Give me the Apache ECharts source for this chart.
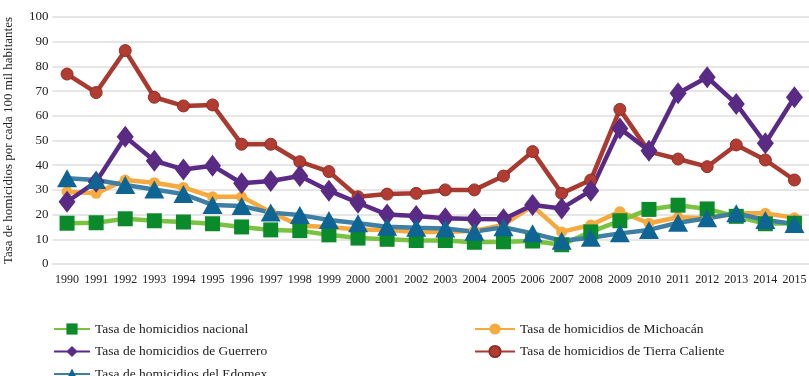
<!DOCTYPE html>
<html>
<head>
<meta charset="utf-8">
<script src="https://cdn.jsdelivr.net/npm/echarts@6/dist/echarts.min.js"></script>
<style>
  html, body { margin: 0; padding: 0; background: #fff; }
  #main { width: 809px; height: 376px; }
</style>
</head>
<body>
<div id="main"></div>
<script>
// 年份
var years = ['1990','1991','1992','1993','1994','1995','1996','1997','1998','1999','2000','2001','2002',
  '2003','2004','2005','2006','2007','2008','2009','2010','2011','2012','2013','2014','2015'];
var nacional = [16.5,16.7,18.3,17.5,17,16.3,15,13.8,13.5,11.8,10.5,10,9.5,9.5,8.8,9,9.3,7.8,13,17.5,22.1,23.8,22.3,19.3,16.3,16.5];
var michoacan = [29.3,28.6,34,32.9,31,27.2,27.2,21,15.5,15,14,13.8,13,13,13.5,15.8,23.5,13,15.8,21.2,16.5,18.9,18.5,20.5,20.5,18.7];
var guerrero = [25.2,33.3,51.5,41.8,38.3,39.8,32.7,33.6,35.6,29.7,24.8,20,19.4,18.5,18.2,18.1,23.9,22.5,29.7,54.9,45.9,69.1,75.6,64.8,48.9,67.5];
var tierraCaliente = [76.9,69.4,86.4,67.5,64,64.4,48.5,48.5,41.4,37.4,27.2,28.3,28.6,30,30,35.6,45.5,28.6,34,62.6,45.5,42.5,39.4,48.2,42.1,34];
var edomex = [34.7,34,32,30.2,28.3,23.9,23.5,20.8,19.8,17.8,16.5,15.1,14.7,14.4,13.1,14.9,12.4,9.4,10.6,12.4,13.8,16.7,18.5,20.5,17.8,16.2];

var names = ['Tasa de homicidios nacional','Tasa de homicidios de Michoacán','Tasa de homicidios de Guerrero',
  'Tasa de homicidios de Tierra Caliente','Tasa de homicidios del Edomex'];

var font = 'Liberation Serif';
var chart = echarts.init(document.getElementById('main'));
var option = {
  animation: false,
  textStyle: { fontFamily: font },
  grid: { left: 52.5, right: 0, top: 17, bottom: 112, outerBoundsMode: 'none' },
  // 两列图例
  legend: [{
    orient: 'vertical', left: 48, top: 317, height: 70, itemGap: 8.5,
    itemWidth: 36, itemHeight: 14,
    textStyle: { fontFamily: font, fontSize: 13.5, color: '#222' },
    data: [names[0], names[2], names[4]]
  }, {
    orient: 'vertical', left: 469, top: 317, height: 70, itemGap: 8.5,
    itemWidth: 40, itemHeight: 14,
    textStyle: { fontFamily: font, fontSize: 13.5, color: '#222' },
    data: [names[1], names[3]]
  }],
  xAxis: {
    type: 'category',
    data: years,
    boundaryGap: true,
    axisLine: { show: true, lineStyle: { color: '#e3e3e3', width: 2 } },
    axisTick: { show: false },
    axisLabel: { fontFamily: font, fontSize: 12, color: '#222', margin: 10, interval: 0 }
  },
  yAxis: {
    type: 'value',
    min: 0, max: 100, interval: 10,
    name: 'Tasa de homicidios por cada 100 mil habitantes',
    nameLocation: 'middle',
    nameGap: 37,
    nameTextStyle: { fontFamily: font, fontSize: 13, color: '#222' },
    axisLine: { show: false },
    axisTick: { show: false },
    axisLabel: { fontFamily: font, fontSize: 13, color: '#222', margin: 4 },
    splitLine: { lineStyle: { color: '#e6e6e6', width: 2 } }
  },
  series: [{
    name: names[3], type: 'line', data: tierraCaliente,
    symbol: 'circle', symbolSize: 12,
    lineStyle: { color: '#a83a30', width: 4.5 },
    itemStyle: { color: '#b23c32', borderColor: '#8e2f27', borderWidth: 1 }
  }, {
    name: names[1], type: 'line', data: michoacan,
    symbol: 'circle', symbolSize: 11,
    lineStyle: { color: '#f5a93e', width: 4.5 },
    itemStyle: { color: '#f7ab3f' }
  }, {
    name: names[0], type: 'line', data: nacional,
    symbol: 'rect', symbolSize: 15,
    lineStyle: { color: '#7cc242', width: 4.5 },
    itemStyle: { color: '#0b8a2c' }
  }, {
    name: names[2], type: 'line', data: guerrero,
    symbol: 'diamond', symbolSize: [17, 22],
    lineStyle: { color: '#5b2a86', width: 4.5 },
    itemStyle: { color: '#5a2b85' }
  }, {
    name: names[4], type: 'line', data: edomex,
    symbol: 'triangle', symbolSize: [20, 18],
    lineStyle: { color: '#3f7fa3', width: 4.5 },
    itemStyle: { color: '#0e6493' }
  }]
};
chart.setOption(option);
</script>
</body>
</html>
